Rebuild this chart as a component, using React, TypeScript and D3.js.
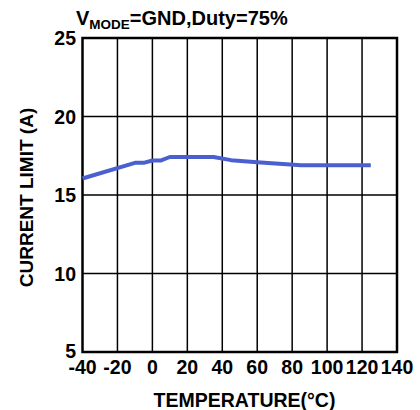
import React from "react";
import * as d3 from "d3";

const temps = [-40, -10, -5, 0, 5, 10, 35, 45, 60, 85, 125];
const currents = [16.05, 17.05, 17.05, 17.2, 17.2, 17.42, 17.42, 17.22, 17.08, 16.9, 16.9];
const xTicks = [-40, -20, 0, 20, 40, 60, 80, 100, 120, 140];
const yTicks = [5, 10, 15, 20, 25];

const W = 420, H = 410;
const left = 82.5, right = 397, top = 38, bottom = 352;
const font = "'Liberation Sans', Arial, sans-serif";

export default function App() {
  const x = d3.scaleLinear().domain([-40, 140]).range([left, right]);
  const y = d3.scaleLinear().domain([5, 25]).range([bottom, top]);
  const data = temps.map((t, i) => [t, currents[i]] as [number, number]);
  const line = d3.line<[number, number]>().x(d => x(d[0])).y(d => y(d[1]));
  return (
    <svg width={W} height={H} style={{ position: "absolute", left: 0, top: 0 }}>
      <rect x={0} y={0} width={W} height={H} fill="#fff" />
      {xTicks.slice(1, -1).map(t => (
        <line key={"vx" + t} x1={x(t)} x2={x(t)} y1={top} y2={bottom} stroke="#000" strokeWidth={1.5} />
      ))}
      {yTicks.slice(1, -1).map(t => (
        <line key={"hy" + t} x1={left} x2={right} y1={y(t)} y2={y(t)} stroke="#000" strokeWidth={1.5} />
      ))}
      <rect x={left} y={top} width={right - left} height={bottom - top} fill="none" stroke="#000" strokeWidth={2.5} />
      <path d={line(data) || ""} fill="none" stroke="#4B60CF" strokeWidth={4} strokeLinejoin="round" />
      {yTicks.map(t => (
        <text key={"yl" + t} x={76} y={y(t) - (t === 5 ? 1 : 0)} dy="0.36em" textAnchor="end" fontFamily={font} fontWeight="bold" fontSize={19.5} fill="#000">{t}</text>
      ))}
      {xTicks.map(t => (
        <text key={"xl" + t} x={x(t)} y={374} textAnchor="middle" fontFamily={font} fontWeight="bold" fontSize={19.5} fill="#000">{t}</text>
      ))}
      <text x={244.5} y={407} textAnchor="middle" fontFamily={font} fontWeight="bold" fontSize={19.5} fill="#000">TEMPERATURE(°C)</text>
      <text transform="translate(33,197.5) rotate(-90)" textAnchor="middle" fontFamily={font} fontWeight="bold" fontSize={19} fill="#000">CURRENT LIMIT (A)</text>
      <text x={76} y={25} fontFamily={font} fontWeight="bold" fontSize={20} fill="#000">
        V<tspan fontSize={13.5} dy={4}>MODE</tspan><tspan dy={-4}>=GND,Duty=75%</tspan>
      </text>
    </svg>
  );
}
